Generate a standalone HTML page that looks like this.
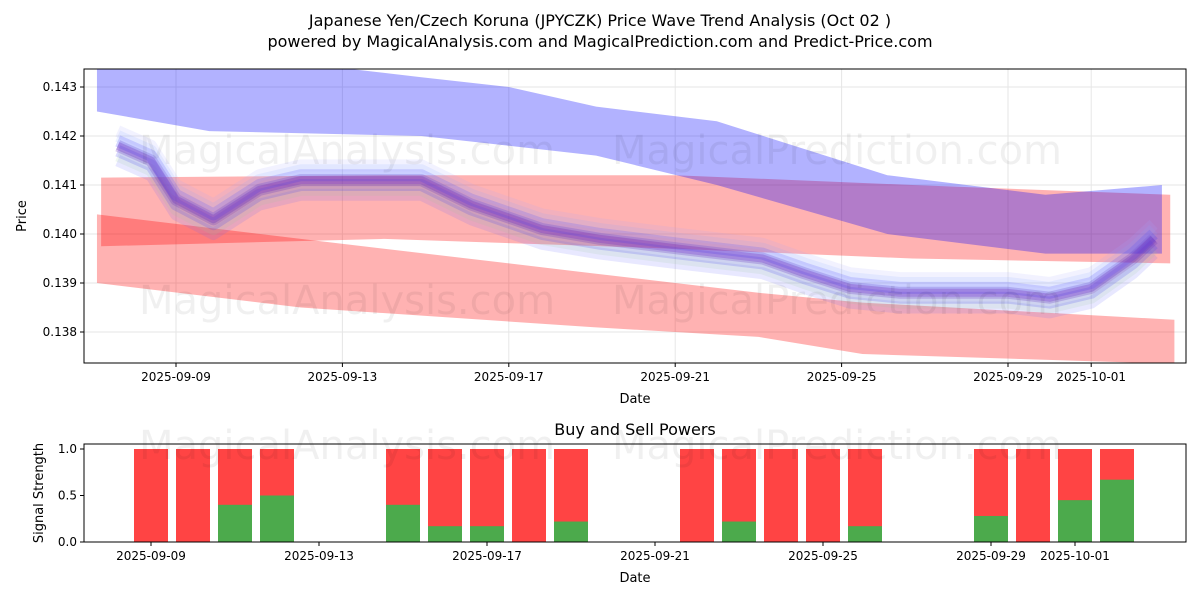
<!DOCTYPE html>
<html><head><meta charset="utf-8"><style>
body{margin:0;background:#fff;font-family:"Liberation Sans","DejaVu Sans",sans-serif}
svg text{font-family:"DejaVu Sans","Liberation Sans",sans-serif}
</style></head><body>
<svg id="c" width="1200" height="600" viewBox="0 0 1200 600" xmlns="http://www.w3.org/2000/svg">
<rect width="1200" height="600" fill="#fff"/>
<text x="600" y="26" text-anchor="middle" font-size="16">Japanese Yen/Czech Koruna (JPYCZK) Price Wave Trend Analysis (Oct 02 )</text>
<text x="600" y="47" text-anchor="middle" font-size="16">powered by MagicalAnalysis.com and MagicalPrediction.com and Predict-Price.com</text>
<g id="top"></g><g id="bot"></g>
</svg>
<script>
// top chart data (day offsets from 2025-09-09)
const blueBandDays=[-1.9,0.8,5.9,8,10.1,13,17.1,20.9,23.7];
const blueBandHi=[0.1434,0.1437,0.1432,0.1430,0.1426,0.1423,0.1412,0.1408,0.1410];
const blueBandLo=[0.1425,0.1421,0.1420,0.1418,0.1416,0.1410,0.1400,0.1396,0.1396];
const redBand1Days=[-1.8,5,12,17.7,23.9];
const redBand1Hi=[0.14115,0.1412,0.1412,0.1410,0.1408];
const redBand1Lo=[0.13975,0.1399,0.1397,0.1395,0.1394];
const redBand2Days=[-1.9,3,10,14,16.5,24];
const redBand2Hi=[0.1404,0.1399,0.1392,0.1388,0.1386,0.13825];
const redBand2Lo=[0.1390,0.1385,0.1381,0.1379,0.13755,0.13735];
const waveDays=[-1.4,-0.6,0,0.9,2,3,5.9,7.1,8.8,10.2,12.1,14.1,15.1,16.2,17.4,20,21,22,23,23.5];
const waveVals=[0.1418,0.1415,0.1407,0.1403,0.1409,0.1411,0.1411,0.1406,0.1401,0.1399,0.1397,0.1395,0.1392,0.1389,0.1388,0.1388,0.1387,0.1389,0.1395,0.1399];
const yTicks=[0.138,0.139,0.140,0.141,0.142,0.143];
const xTickLabels=["2025-09-09","2025-09-13","2025-09-17","2025-09-21","2025-09-25","2025-09-29","2025-10-01"];
const xTickDays=[0,4,8,12,16,20,22];
// bottom chart data (day offsets from 2025-09-09)
const barDays=[0,1,2,3,6,7,8,9,10,13,14,15,16,17,20,21,22,23];
const buyVals=[0,0,0.4,0.5,0.4,0.17,0.17,0,0.22,0,0.22,0,0,0.17,0.28,0,0.45,0.67];
const sellVals=[1,1,1,1,1,1,1,1,1,1,1,1,1,1,1,1,1,1];
const sTicks=[0,0.5,1.0];

const NS="http://www.w3.org/2000/svg";
function mk(p,t,a){const e=document.createElementNS(NS,t);for(const k in a)e.setAttribute(k,a[k]);p.appendChild(e);return e;}
const T=document.getElementById('top'),B=document.getElementById('bot');
const L=84,R=1186,TT=69,TB=363,BT=444,BB=542;
const xT=d=>176+d*41.6, yT=v=>87+(0.143-v)*49000;
const xB=d=>151+d*42, yB=v=>542-v*93;
const cp=mk(T,'clipPath',{id:'cp'});
mk(cp,'rect',{x:L,y:TT,width:R-L,height:TB-TT});
const g=mk(T,'g',{'clip-path':'url(#cp)'});


yTicks.forEach(v=>{const l=mk(g,'line',{x1:L,x2:R,y1:yT(v),y2:yT(v),stroke:'#e6e6e6'});});
xTickDays.forEach(d=>{const l=mk(g,'line',{x1:xT(d),x2:xT(d),y1:TT,y2:TB,stroke:'#e6e6e6'});});
function band(days,hi,lo,col,op,name){
  let pts=days.map((d,i)=>xT(d)+','+yT(hi[i]));
  for(let i=days.length-1;i>=0;i--)pts.push(xT(days[i])+','+yT(lo[i]));
  const p=mk(g,'polygon',{points:pts.join(' '),fill:col,'fill-opacity':op});
  
  
}
band(redBand2Days,redBand2Hi,redBand2Lo,'#ff0000',0.3,'red-band-lower');
band(redBand1Days,redBand1Hi,redBand1Lo,'#ff0000',0.3,'red-band-upper');
band(blueBandDays,blueBandHi,blueBandLo,'#0000ff',0.3,'blue-band');
const offs=[[-0.0003,'#6666ff',0.15],[-0.0002,'#99cc99',0.15],[-0.0001,'#4444ee',0.2],[0,'#6633bb',0.25],[0.0001,'#3333ff',0.2],[0.0002,'#88aaff',0.15],[0.0003,'#aaaaff',0.15]];
offs.forEach(([o,c,a])=>{
  const p=mk(g,'polyline',{points:waveDays.map((d,i)=>xT(d)+','+yT(waveVals[i]+o)).join(' '),fill:'none',stroke:c,'stroke-opacity':a,'stroke-width':12,'stroke-linejoin':'round'});
  
  
});
const c1=mk(g,'polyline',{points:waveDays.map((d,i)=>xT(d)+','+yT(waveVals[i])).join(' '),fill:'none',stroke:'#6a2ec0','stroke-opacity':0.3,'stroke-width':8,'stroke-linejoin':'round'});


[[347,150],[837,150],[347,300],[837,300],[347,445],[837,445]].forEach(([x,y],i)=>{
  const t=mk(document.getElementById('c'),'text',{x:x,y:y+14,'text-anchor':'middle','font-size':40,fill:'#000','fill-opacity':0.06});
  t.textContent=i%2?'MagicalPrediction.com':'MagicalAnalysis.com';
  
  
});
let fr=mk(T,'rect',{x:L,y:TT,width:R-L,height:TB-TT,fill:'none',stroke:'#000'});

yTicks.forEach(v=>{mk(T,'line',{x1:L-4,x2:L,y1:yT(v),y2:yT(v),stroke:'#000'});
  const t=mk(T,'text',{x:L-7,y:yT(v)+4,'text-anchor':'end','font-size':12});t.textContent=v.toFixed(3);
  });
xTickDays.forEach((d,i)=>{mk(T,'line',{x1:xT(d),x2:xT(d),y1:TB,y2:TB+4,stroke:'#000'});
  const t=mk(T,'text',{x:xT(d),y:TB+18,'text-anchor':'middle','font-size':12});t.textContent=xTickLabels[i];
  });
let t=mk(T,'text',{x:635,y:403,'text-anchor':'middle','font-size':13});t.textContent='Date';

t=mk(T,'text',{x:26,y:216,'text-anchor':'middle','font-size':13,transform:'rotate(-90 26 216)'});t.textContent='Price';

t=mk(B,'text',{x:635,y:435,'text-anchor':'middle','font-size':16});t.textContent='Buy and Sell Powers';

barDays.forEach((d,i)=>{
  const r=mk(B,'rect',{x:xB(d)-17,y:yB(sellVals[i]),width:34,height:yB(0)-yB(sellVals[i]),fill:'#ff4444'});
  
  const r2=mk(B,'rect',{x:xB(d)-17,y:yB(buyVals[i]),width:34,height:yB(0)-yB(buyVals[i]),fill:'#4caa4c'});
  
});
fr=mk(B,'rect',{x:L,y:BT,width:R-L,height:BB-BT,fill:'none',stroke:'#000'});

sTicks.forEach(v=>{mk(B,'line',{x1:L-4,x2:L,y1:yB(v),y2:yB(v),stroke:'#000'});
  const t=mk(B,'text',{x:L-7,y:yB(v)+4,'text-anchor':'end','font-size':12});t.textContent=v.toFixed(1);
  });
xTickDays.forEach((d,i)=>{mk(B,'line',{x1:xB(d),x2:xB(d),y1:BB,y2:BB+4,stroke:'#000'});
  const t=mk(B,'text',{x:xB(d),y:BB+18,'text-anchor':'middle','font-size':12});t.textContent=xTickLabels[i];
  });
t=mk(B,'text',{x:635,y:582,'text-anchor':'middle','font-size':13});t.textContent='Date';

t=mk(B,'text',{x:43,y:493,'text-anchor':'middle','font-size':13,transform:'rotate(-90 43 493)'});t.textContent='Signal Strength';

</script>
</body></html>
